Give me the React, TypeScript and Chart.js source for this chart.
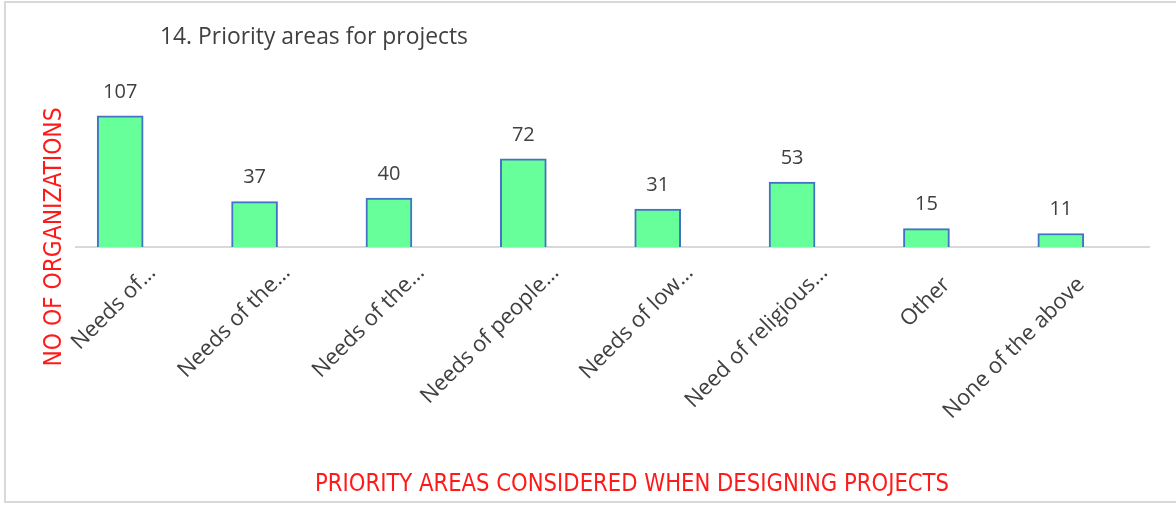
import React, { useEffect, useRef } from 'react';
import { Chart, registerables } from 'chart.js';

Chart.register(...registerables);

const categories = [
  'Needs of…',
  'Needs of the…',
  'Needs of the…',
  'Needs of people…',
  'Needs of low…',
  'Need of religious…',
  'Other',
  'None of the above',
];
const values = [107, 37, 40, 72, 31, 53, 15, 11];
const chartTitle = '14. Priority areas for projects';
const yTitle = 'NO OF ORGANIZATIONS';
const xTitle = 'PRIORITY AREAS CONSIDERED WHEN DESIGNING PROJECTS';
const yMax = 120;

const NARROW = '"Liberation Sans Narrow", "DejaVu Sans Condensed", "Open Sans", sans-serif';
const SANS = '"Open Sans", "Noto Sans", sans-serif';

function fitFont(ctx: CanvasRenderingContext2D, text: string, family: string, target: number) {
  ctx.font = `100px ${family}`;
  const w = ctx.measureText(text).width;
  const size = (100 * target) / w;
  return `${size.toFixed(2)}px ${family}`;
}

// draw text at a given font size, squeezed horizontally to a target width
function drawCondensed(
  ctx: CanvasRenderingContext2D,
  text: string,
  size: number,
  target: number,
  cx: number,
  cy: number,
  angle: number
) {
  ctx.save();
  ctx.font = `${size}px ${NARROW}`;
  const w = ctx.measureText(text).width;
  const sx = target / w;
  ctx.translate(cx, cy);
  ctx.rotate(angle);
  ctx.scale(sx, 1);
  ctx.textAlign = 'center';
  ctx.textBaseline = 'middle';
  ctx.fillText(text, 0, 0);
  ctx.restore();
}

const framePlugin = {
  id: 'frame',
  beforeDraw(chart: any) {
    const ctx = chart.ctx;
    ctx.save();
    ctx.fillStyle = '#ffffff';
    ctx.fillRect(0, 0, chart.width, chart.height);
    ctx.strokeStyle = '#d9d9d9';
    ctx.lineWidth = 2;
    ctx.strokeRect(5, 2, chart.width + 20, chart.height - 5);
    ctx.restore();
  },
};

const baselinePlugin = {
  id: 'baseline',
  beforeDatasetsDraw(chart: any) {
    const { ctx, chartArea } = chart;
    ctx.save();
    ctx.strokeStyle = '#d9d9d9';
    ctx.lineWidth = 2;
    ctx.beginPath();
    ctx.moveTo(chartArea.left + 22, chartArea.bottom);
    ctx.lineTo(chartArea.right + 22, chartArea.bottom);
    ctx.stroke();
    ctx.restore();
  },
};

const valueLabelPlugin = {
  id: 'valueLabels',
  afterDatasetsDraw(chart: any) {
    const ctx = chart.ctx;
    const meta = chart.getDatasetMeta(0);
    ctx.save();
    ctx.font = `20px ${SANS}`;
    ctx.fillStyle = '#404040';
    ctx.textAlign = 'center';
    ctx.textBaseline = 'middle';
    meta.data.forEach((bar: any, i: number) => {
      ctx.fillText(String(values[i]), bar.x, bar.y - 24);
    });
    ctx.restore();
  },
};

const titlesPlugin = {
  id: 'titles',
  afterDraw(chart: any) {
    const ctx = chart.ctx;
    ctx.save();
    // chart title
    ctx.font = fitFont(ctx, chartTitle, SANS, 308);
    ctx.fillStyle = '#404040';
    ctx.textAlign = 'left';
    ctx.textBaseline = 'middle';
    ctx.fillText(chartTitle, 160, 37);
    // axis titles
    ctx.fillStyle = '#ff1a1a';
    drawCondensed(ctx, xTitle, 25, 634, 632, 484, 0);
    drawCondensed(ctx, yTitle, 25, 259, 54, 237, -Math.PI / 2);
    ctx.restore();
  },
};

export default function App() {
  const ref = useRef<HTMLCanvasElement | null>(null);
  useEffect(() => {
    if (!ref.current) return;
    const chart = new Chart(ref.current, {
      type: 'bar',
      data: {
        labels: categories,
        datasets: [
          {
            data: values,
            backgroundColor: '#66ff99',
            borderColor: '#4472c4',
            borderWidth: 2,
            barThickness: 46,
          },
        ],
      },
      options: {
        animation: false,
        responsive: false,
        maintainAspectRatio: false,
        layout: { padding: { left: 53, right: 48, top: 100, bottom: 0 } },
        plugins: {
          legend: { display: false },
          title: { display: false },
          tooltip: { enabled: false },
        },
        scales: {
          x: {
            grid: { display: false },
            border: { display: false },
            ticks: {
              autoSkip: false,
              minRotation: 45,
              maxRotation: 45,
              labelOffset: 32,
              padding: 5,
              color: '#404040',
              font: { family: SANS, size: 22 },
              callback: (_v: any, i: number) =>
                categories[i].endsWith('…') ? categories[i] : categories[i] + '\u2002 ',
            },
            afterFit(scale: any) {
              scale.height = 258;
            },
          },
          y: {
            display: false,
            min: 0,
            max: yMax,
          },
        },
      },
      plugins: [framePlugin, baselinePlugin, valueLabelPlugin, titlesPlugin],
    });
    return () => chart.destroy();
  }, []);
  return (
    <div style={{ position: 'fixed', left: 0, top: 0, width: 1176, height: 505 }}>
      <canvas ref={ref} width={1176} height={505} style={{ width: 1176, height: 505, display: 'block' }} />
    </div>
  );
}
